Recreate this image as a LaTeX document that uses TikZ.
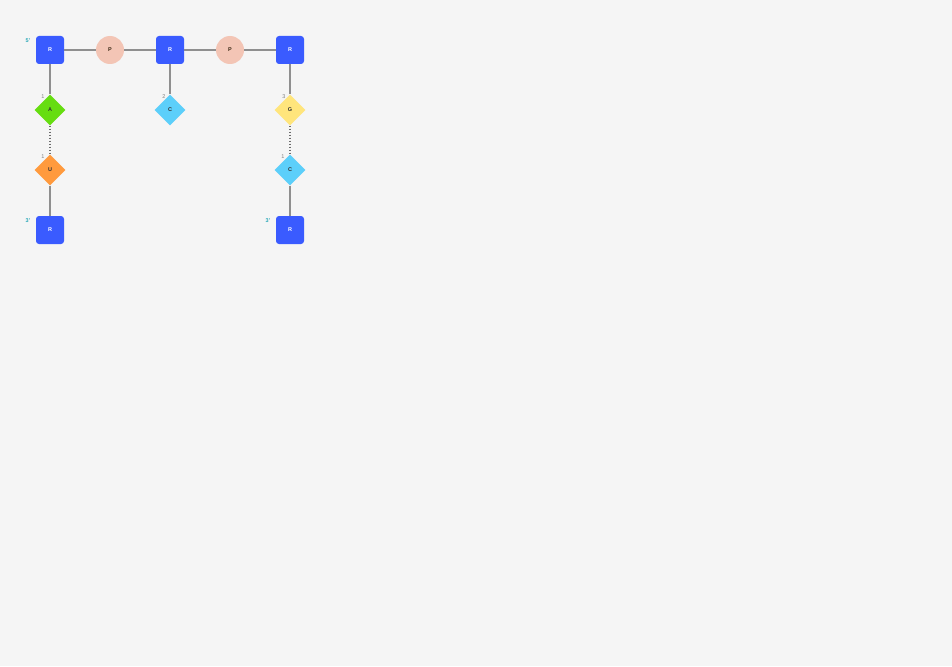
\documentclass[tikz,border=0pt]{standalone}
\usepackage{fontspec}
\setmainfont{Liberation Sans}
\usetikzlibrary{shapes.geometric}
\definecolor{bg}{HTML}{F5F5F5}
\definecolor{rblue}{HTML}{3A5BFF}
\definecolor{ppink}{HTML}{F3C5B5}
\definecolor{agreen}{HTML}{66DD11}
\definecolor{ccyan}{HTML}{5CCFFA}
\definecolor{gyellow}{HTML}{FFE57C}
\definecolor{uorange}{HTML}{FF9A3D}
\definecolor{lgray}{HTML}{8F8F8F}
\definecolor{teal5}{HTML}{2AA8B8}
\tikzset{
  x=1pt,y=-1pt,
  rbox/.style={draw=none,fill=rblue,rounded corners=3pt,minimum size=28pt,inner sep=0pt,text=white,font=\bfseries\fontsize{5.5}{5.5}\selectfont},
  pcirc/.style={circle,fill=ppink,minimum size=28pt,inner sep=0pt,text=black!70!brown,font=\bfseries\fontsize{5.5}{5.5}\selectfont},
  base/.style={diamond,minimum width=31pt,minimum height=31pt,inner sep=0pt,text=black!80,font=\bfseries\fontsize{5.5}{5.5}\selectfont},
  bond/.style={draw=lgray,line width=1.8pt},
  pair/.style={draw=gray!85!black,line width=1.5pt,dash pattern=on 1.5pt off 1.5pt},
  endlbl/.style={text=teal5,font=\bfseries\fontsize{5.5}{5.5}\selectfont},
  numlbl/.style={text=gray,font=\fontsize{5.5}{5.5}\selectfont}
}
\begin{document}
\begin{tikzpicture}
\fill[bg] (0,0) rectangle (952,666);
\useasboundingbox (0,0) rectangle (952,666);
% backbone
\node[rbox] (r1) at (50,50) {R};
\node[pcirc] (p1) at (110,50) {P};
\node[rbox] (r2) at (170,50) {R};
\node[pcirc] (p2) at (230,50) {P};
\node[rbox] (r3) at (290,50) {R};
% bases
\node[base,fill=agreen] (a) at (50,110) {A};
\node[base,fill=ccyan] (c1) at (170,110) {C};
\node[base,fill=gyellow] (g) at (290,110) {G};
\node[base,fill=uorange] (u) at (50,170) {U};
\node[base,fill=ccyan] (c2) at (290,170) {C};
% complementary ribose
\node[rbox] (r4) at (50,230) {R};
\node[rbox] (r5) at (290,230) {R};
% connectors
\draw[bond] (r1) -- (p1); \draw[bond] (p1) -- (r2);
\draw[bond] (r2) -- (p2); \draw[bond] (p2) -- (r3);
\draw[bond] (r1) -- (a); \draw[bond] (r2) -- (c1); \draw[bond] (r3) -- (g);
\draw[bond] (u) -- (r4); \draw[bond] (c2) -- (r5);
\draw[pair] (a) -- (u); \draw[pair] (g) -- (c2);
% labels
\node[endlbl] (l5) at (28,41) {5'};
\node[endlbl] (l3a) at (28,221) {3'};
\node[endlbl] (l3b) at (268,221) {3'};
\node[numlbl] (n1) at (43,97) {1};
\node[numlbl] (n2) at (164,97) {2};
\node[numlbl] (n3) at (284,97) {3};
\node[numlbl] (n4) at (43,157) {1};
\node[numlbl] (n5) at (283,157) {1};
\end{tikzpicture}
\end{document}
